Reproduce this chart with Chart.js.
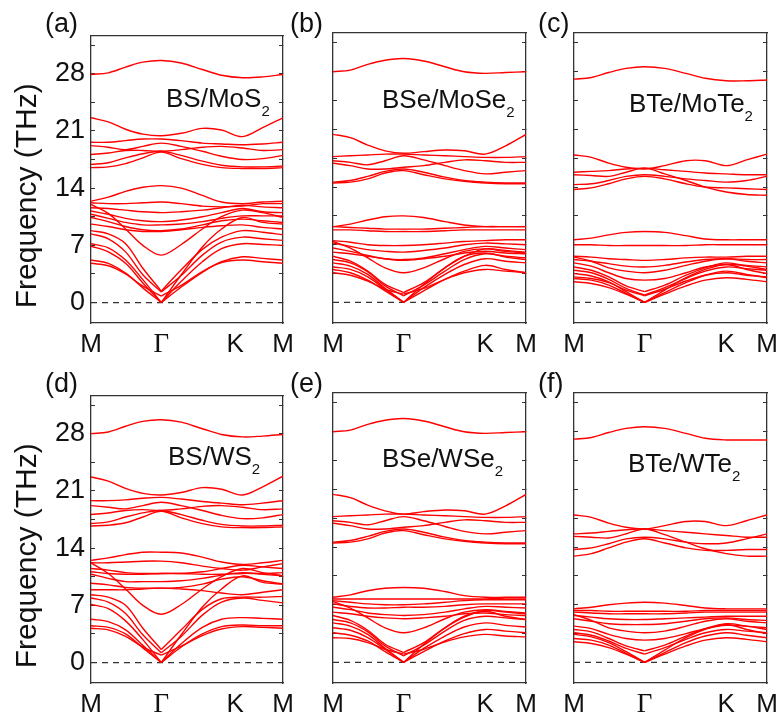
<!DOCTYPE html>
<html>
<head>
<meta charset="utf-8">
<script src="https://cdn.jsdelivr.net/npm/chart.js@4.4.1/dist/chart.umd.min.js"></script>
<style>
body { margin: 0; background: #fff; width: 781px; height: 721px; position: relative; overflow: hidden; font-family: 'Liberation Sans', Arial, sans-serif; color: #111; }
canvas { position: absolute; }
.tag { position: absolute; font-size: 27px; line-height: 27px; }
.inset { position: absolute; font-size: 26px; line-height: 26px; white-space: nowrap; }
.inset span { font-size: 15px; position: relative; top: 9px; }
</style>
</head>
<body>
<script>
// path positions (fraction of M-Γ-K-M length) where bands were read
var kPath = [0, 0.09, 0.18, 0.27, 0.366, 0.47, 0.58, 0.68, 0.789, 0.894, 1];
var kTicks = [0, 0.366, 0.789, 1];
var kNames = ['M', 'Γ', 'K', 'M'];
var freqTicks = [0, 3.5, 7, 10.5, 14, 17.5, 21, 24.5, 28, 31.5];
var freqLabels = [0, 7, 14, 21, 28];
var tags = ['(a)', '(b)', '(c)', '(d)', '(e)', '(f)'];
var materials = ['BS/MoS', 'BSe/MoSe', 'BTe/MoTe', 'BS/WS', 'BSe/WSe', 'BTe/WTe'];

// (a) BS/MoS2
var bandsA = [
    [27.9, 28.1, 28.8, 29.4, 29.6, 29.3, 28.5, 27.8, 27.5, 27.6, 27.9],
    [22.6, 22.1, 21.2, 20.6, 20.4, 20.7, 21.3, 21.1, 20.3, 21.4, 22.6],
    [19.6, 19.6, 19.8, 20.0, 20.0, 19.8, 19.5, 19.4, 19.3, 19.4, 19.6],
    [19.2, 19.0, 18.7, 19.1, 19.5, 19.1, 18.5, 17.9, 17.5, 17.6, 18.0],
    [18.1, 18.3, 18.6, 18.6, 18.5, 18.7, 19.0, 19.1, 18.9, 18.6, 18.7],
    [16.9, 17.1, 17.7, 18.2, 18.5, 18.0, 17.3, 16.8, 16.6, 16.6, 16.7],
    [16.5, 16.6, 17.0, 17.7, 18.4, 17.6, 16.9, 16.5, 16.4, 16.4, 16.5],
    [12.4, 12.9, 13.6, 14.1, 14.3, 14.0, 13.1, 12.3, 12.1, 12.3, 12.4],
    [12.2, 12.1, 12.1, 12.2, 12.3, 12.1, 11.8, 11.7, 11.8, 12.1, 12.1],
    [11.6, 11.5, 11.3, 11.1, 11.0, 11.1, 11.3, 11.6, 11.9, 11.7, 11.6],
    [11.2, 10.8, 10.3, 10.0, 9.9, 10.1, 10.5, 11.0, 11.5, 11.1, 11.0],
    [10.8, 10.3, 9.8, 9.5, 9.5, 9.6, 9.9, 10.3, 10.6, 10.6, 10.6],
    [10.4, 9.9, 9.3, 8.9, 8.8, 9.0, 9.5, 10.0, 10.2, 10.0, 9.8],
    [9.6, 9.3, 8.9, 8.7, 8.7, 8.9, 9.2, 9.4, 9.5, 9.2, 9.0],
    [12.0, 10.9, 9.0, 7.0, 5.8, 7.1, 9.0, 10.5, 11.3, 11.0, 10.4],
    [8.8, 8.4, 7.2, 4.2, 1.4, 4.0, 6.5, 8.0, 8.8, 8.6, 8.3],
    [8.4, 7.8, 6.2, 3.4, 1.3, 3.3, 5.8, 7.4, 8.0, 7.8, 7.6],
    [7.2, 6.7, 5.2, 2.8, 0, 3.4, 6.8, 9.0, 10.4, 9.8, 9.6],
    [6.9, 6.2, 4.8, 2.4, 0, 2.6, 5.0, 6.6, 7.2, 7.1, 7.0],
    [5.2, 4.8, 3.6, 1.8, 0, 1.9, 3.7, 5.0, 5.6, 5.4, 5.2],
    [4.8, 4.5, 3.5, 2.0, 0.8, 2.1, 3.8, 4.9, 5.2, 5.0, 4.8]
];

// (b) BSe/MoSe2
var bandsB = [
    [28.0, 28.2, 28.9, 29.4, 29.6, 29.3, 28.6, 28.0, 27.8, 27.9, 28.0],
    [20.4, 20.0, 19.1, 18.4, 18.1, 18.3, 18.5, 18.4, 18.0, 19.0, 20.4],
    [17.7, 17.8, 17.9, 18.0, 18.0, 17.9, 17.8, 17.7, 17.6, 17.6, 17.7],
    [17.2, 17.0, 16.7, 17.2, 17.8, 17.3, 16.6, 16.0, 15.6, 15.8, 16.0],
    [16.9, 16.6, 16.2, 16.2, 16.4, 16.6, 17.0, 17.3, 17.2, 17.0, 17.0],
    [14.6, 14.8, 15.3, 15.9, 16.2, 15.8, 15.2, 14.8, 14.6, 14.5, 14.5],
    [14.5, 14.6, 15.0, 15.7, 16.0, 15.5, 15.0, 14.7, 14.5, 14.4, 14.4],
    [9.2, 9.5, 10.0, 10.4, 10.5, 10.3, 9.8, 9.4, 9.2, 9.2, 9.2],
    [9.2, 9.1, 9.0, 8.9, 8.9, 8.9, 9.0, 9.1, 9.2, 9.2, 9.2],
    [8.8, 8.8, 8.7, 8.6, 8.6, 8.6, 8.7, 8.8, 8.8, 8.8, 8.8],
    [7.5, 7.3, 7.0, 6.9, 6.9, 7.0, 7.2, 7.4, 7.5, 7.6, 7.6],
    [7.2, 6.8, 6.4, 6.2, 6.1, 6.3, 6.6, 7.0, 7.2, 7.1, 7.0],
    [6.6, 6.2, 5.7, 5.3, 5.2, 5.4, 5.9, 6.4, 6.8, 6.6, 6.4],
    [7.4, 6.6, 5.4, 4.2, 3.6, 4.2, 5.3, 6.2, 6.5, 6.2, 6.0],
    [6.1, 5.9, 5.6, 5.3, 5.1, 5.3, 5.6, 6.0, 6.2, 6.0, 5.9],
    [5.6, 5.0, 3.8, 2.2, 1.2, 2.4, 4.2, 5.6, 6.5, 6.3, 6.1],
    [5.2, 4.8, 3.7, 2.0, 0.8, 2.1, 3.8, 5.2, 5.9, 5.6, 5.4],
    [4.8, 4.4, 3.4, 1.7, 0, 2.2, 4.2, 5.6, 6.0, 5.5, 5.2],
    [4.3, 4.0, 3.1, 1.6, 0, 1.8, 3.4, 4.6, 5.3, 5.0, 4.8],
    [4.0, 3.6, 2.7, 1.4, 0, 1.4, 2.8, 3.8, 4.5, 4.0, 3.6],
    [3.6, 3.3, 2.6, 1.6, 1.0, 1.7, 2.8, 3.6, 4.0, 3.8, 3.6]
];

// (c) BTe/MoTe2
var bandsC = [
    [27.1, 27.3, 27.9, 28.4, 28.6, 28.4, 27.8, 27.2, 26.9, 26.9, 27.0],
    [17.9, 17.6, 16.9, 16.4, 16.2, 16.6, 17.2, 17.2, 16.6, 17.3, 18.0],
    [15.8, 15.9, 16.0, 16.2, 16.3, 16.1, 15.9, 15.7, 15.6, 15.5, 15.5],
    [15.5, 15.4, 15.3, 15.8, 16.3, 15.6, 14.8, 14.0, 13.4, 13.1, 13.0],
    [14.3, 14.4, 14.8, 15.3, 15.5, 15.3, 15.0, 14.8, 14.6, 14.8, 15.3],
    [13.7, 13.9, 14.4, 15.0, 15.3, 15.0, 14.4, 14.0, 13.9, 13.8, 13.7],
    [7.6, 7.8, 8.2, 8.5, 8.6, 8.5, 8.1, 7.7, 7.6, 7.6, 7.6],
    [7.0, 7.0, 6.9, 6.9, 6.9, 6.9, 6.9, 7.0, 7.0, 7.0, 7.0],
    [5.6, 5.5, 5.3, 5.2, 5.1, 5.2, 5.4, 5.5, 5.5, 5.6, 5.6],
    [5.2, 5.0, 4.7, 4.4, 4.3, 4.5, 4.9, 5.2, 5.3, 5.2, 5.2],
    [5.5, 5.0, 4.2, 3.8, 3.6, 3.9, 4.5, 5.0, 5.3, 5.0, 4.8],
    [4.8, 4.4, 3.6, 2.9, 2.7, 2.9, 3.6, 4.3, 4.6, 4.5, 4.3],
    [4.3, 3.9, 3.1, 2.0, 1.3, 2.1, 3.3, 4.2, 4.8, 4.4, 4.0],
    [3.9, 3.6, 2.8, 1.7, 0.9, 1.8, 2.9, 3.8, 4.3, 4.1, 3.9],
    [3.5, 3.2, 2.5, 1.3, 0, 1.5, 3.0, 4.0, 4.6, 4.0, 3.5],
    [2.9, 2.7, 2.1, 1.1, 0, 1.2, 2.4, 3.3, 3.8, 3.4, 3.0],
    [2.5, 2.3, 1.8, 1.0, 0, 1.0, 2.0, 2.7, 3.0, 2.8, 2.5],
    [3.1, 2.9, 2.4, 1.5, 0.8, 1.6, 2.6, 3.3, 3.6, 3.3, 3.1]
];

// (d) BS/WS2
var bandsD = [
    [28.0, 28.2, 28.9, 29.5, 29.7, 29.4, 28.6, 27.9, 27.6, 27.7, 27.9],
    [22.7, 22.2, 21.3, 20.7, 20.5, 20.8, 21.4, 21.2, 20.5, 21.5, 22.8],
    [19.8, 19.8, 19.9, 20.1, 20.2, 20.0, 19.7, 19.5, 19.3, 19.5, 19.8],
    [19.2, 19.0, 18.8, 19.2, 19.6, 19.2, 18.6, 18.0, 17.6, 17.7, 18.1],
    [18.1, 18.3, 18.6, 18.7, 18.6, 18.8, 19.1, 19.2, 19.0, 18.7, 18.8],
    [17.0, 17.2, 17.8, 18.3, 18.6, 18.1, 17.4, 16.9, 16.7, 16.7, 16.8],
    [16.7, 16.8, 17.1, 17.8, 18.5, 17.7, 17.0, 16.6, 16.5, 16.5, 16.6],
    [12.5, 12.8, 13.2, 13.5, 13.5, 13.4, 12.9, 12.3, 12.0, 12.2, 12.5],
    [12.2, 12.2, 12.3, 12.4, 12.4, 12.2, 11.8, 11.5, 11.3, 11.7, 12.1],
    [11.5, 11.3, 11.0, 10.9, 10.9, 10.9, 11.1, 11.5, 11.9, 11.7, 11.5],
    [11.1, 10.9, 10.8, 10.8, 10.9, 10.9, 10.8, 10.8, 10.9, 10.9, 11.0],
    [10.8, 10.3, 9.9, 9.9, 9.9, 10.0, 10.3, 10.7, 11.0, 10.8, 10.6],
    [9.7, 9.5, 9.2, 9.1, 9.1, 9.2, 9.6, 10.2, 10.5, 10.0, 9.6],
    [8.9, 8.9, 8.9, 9.0, 9.1, 9.0, 8.8, 8.5, 8.3, 8.6, 8.9],
    [12.2, 10.9, 9.0, 7.0, 5.9, 7.1, 9.0, 10.5, 11.5, 11.0, 10.6],
    [8.3, 8.0, 7.0, 4.2, 1.6, 4.0, 6.5, 7.8, 8.0, 8.0, 8.1],
    [7.9, 7.4, 6.0, 3.4, 1.2, 3.2, 5.8, 7.4, 7.9, 7.6, 7.3],
    [7.1, 6.6, 5.1, 2.8, 0, 3.4, 6.8, 9.0, 10.6, 9.8, 9.6],
    [5.3, 5.0, 4.0, 2.1, 0, 2.3, 4.3, 5.3, 5.5, 5.4, 5.3],
    [4.5, 4.3, 3.5, 1.8, 0, 1.9, 3.5, 4.4, 4.6, 4.5, 4.5],
    [4.2, 4.0, 3.2, 1.9, 0.9, 2.0, 3.3, 4.1, 4.4, 4.3, 4.2]
];

// (e) BSe/WSe2
var bandsE = [
    [28.0, 28.2, 28.9, 29.4, 29.6, 29.3, 28.6, 28.0, 27.8, 27.9, 28.0],
    [20.4, 20.0, 19.1, 18.4, 18.0, 18.3, 18.5, 18.4, 18.0, 19.0, 20.4],
    [17.7, 17.8, 17.9, 18.0, 18.0, 17.9, 17.8, 17.7, 17.6, 17.6, 17.7],
    [17.2, 17.0, 16.7, 17.2, 17.7, 17.2, 16.5, 15.9, 15.6, 15.8, 16.0],
    [16.9, 16.6, 16.2, 16.2, 16.4, 16.6, 17.0, 17.3, 17.2, 17.0, 17.0],
    [14.6, 14.8, 15.3, 15.9, 16.2, 15.8, 15.2, 14.8, 14.6, 14.5, 14.5],
    [14.5, 14.6, 15.0, 15.7, 16.0, 15.5, 15.0, 14.7, 14.5, 14.4, 14.4],
    [7.9, 8.2, 8.7, 9.0, 9.1, 9.0, 8.6, 8.1, 7.9, 7.9, 7.9],
    [7.7, 7.7, 7.7, 7.7, 7.7, 7.7, 7.7, 7.7, 7.7, 7.8, 7.8],
    [7.5, 7.3, 7.1, 7.0, 7.0, 7.1, 7.3, 7.5, 7.6, 7.6, 7.6],
    [7.1, 6.8, 6.6, 6.6, 6.7, 6.7, 6.8, 7.0, 7.1, 7.1, 7.1],
    [6.7, 6.4, 6.0, 5.8, 5.7, 5.8, 6.1, 6.5, 6.8, 6.7, 6.6],
    [7.4, 6.6, 5.4, 4.2, 3.6, 4.2, 5.3, 6.1, 6.4, 6.2, 6.0],
    [6.1, 5.9, 5.6, 5.4, 5.3, 5.4, 5.6, 5.9, 6.0, 5.8, 5.7],
    [5.7, 5.1, 3.9, 2.2, 1.2, 2.4, 4.2, 5.5, 6.3, 6.1, 5.9],
    [5.2, 4.8, 3.7, 2.0, 0.8, 2.1, 3.8, 5.1, 5.6, 5.4, 5.2],
    [4.8, 4.4, 3.4, 1.7, 0, 2.2, 4.2, 5.6, 6.2, 5.6, 5.2],
    [4.2, 3.9, 3.0, 1.6, 0, 1.7, 3.2, 4.3, 4.8, 4.5, 4.3],
    [3.6, 3.3, 2.6, 1.3, 0, 1.3, 2.6, 3.5, 4.0, 3.8, 3.6],
    [3.0, 2.9, 2.4, 1.6, 1.0, 1.6, 2.5, 3.1, 3.4, 3.2, 3.1]
];

// (f) BTe/WTe2
var bandsF = [
    [27.1, 27.3, 27.9, 28.4, 28.6, 28.4, 27.8, 27.2, 27.0, 27.0, 27.0],
    [17.9, 17.6, 16.9, 16.4, 16.2, 16.6, 17.1, 17.1, 16.6, 17.2, 17.9],
    [15.6, 15.7, 15.9, 16.1, 16.2, 16.0, 15.8, 15.6, 15.4, 15.2, 15.2],
    [15.3, 15.2, 15.1, 15.6, 16.2, 15.5, 14.6, 13.8, 13.2, 12.9, 12.9],
    [13.7, 13.9, 14.4, 15.0, 15.2, 15.0, 14.6, 14.4, 14.5, 15.0, 15.6],
    [12.9, 13.2, 13.9, 14.6, 15.0, 14.5, 13.9, 13.6, 13.6, 13.7, 13.7],
    [6.5, 6.7, 7.0, 7.2, 7.3, 7.2, 6.9, 6.6, 6.5, 6.5, 6.5],
    [6.3, 6.3, 6.2, 6.2, 6.2, 6.2, 6.2, 6.3, 6.3, 6.3, 6.3],
    [6.1, 6.0, 5.9, 5.9, 5.9, 5.9, 6.0, 6.1, 6.1, 6.1, 6.1],
    [5.7, 5.5, 5.3, 5.2, 5.2, 5.3, 5.4, 5.5, 5.6, 5.6, 5.6],
    [5.3, 5.0, 4.7, 4.6, 4.6, 4.7, 5.0, 5.3, 5.4, 5.2, 5.1],
    [5.8, 5.1, 4.2, 3.8, 3.6, 3.8, 4.4, 5.0, 5.3, 5.0, 4.8],
    [4.4, 4.1, 3.4, 2.9, 2.7, 2.9, 3.5, 4.1, 4.5, 4.4, 4.2],
    [4.0, 3.7, 2.9, 2.0, 1.4, 2.1, 3.2, 4.1, 4.7, 4.4, 4.0],
    [3.6, 3.3, 2.6, 1.7, 1.0, 1.8, 2.8, 3.6, 4.0, 3.8, 3.6],
    [3.4, 3.1, 2.4, 1.3, 0, 1.5, 3.0, 4.0, 4.6, 4.0, 3.5],
    [2.9, 2.7, 2.1, 1.1, 0, 1.2, 2.4, 3.2, 3.6, 3.3, 3.0],
    [2.5, 2.3, 1.8, 1.0, 0, 1.0, 2.0, 2.7, 3.0, 2.8, 2.5]
];

var allBands = [bandsA, bandsB, bandsC, bandsD, bandsE, bandsF];

// plot frames in page pixels
var frames = [
    {x: 91, y: 33, w: 192, h: 290},
    {x: 333, y: 33, w: 193, h: 290},
    {x: 574, y: 33, w: 193, h: 290},
    {x: 91, y: 393, w: 192, h: 290},
    {x: 333, y: 393, w: 193, h: 290},
    {x: 574, y: 393, w: 193, h: 290}
];
var tagPos = [[45, 10], [290, 10], [538, 10], [45, 370], [290, 370], [538, 370]];
var insetPos = [[166, 85], [382, 86], [629, 90], [168, 443], [382, 445], [628, 450]];
var GAMMA = 4; // index of Γ in kPath

Chart.defaults.font.family = "'Liberation Sans', Arial, sans-serif";
Chart.defaults.color = '#111';

function setFreqTicks(s) {
    s.ticks = freqTicks.map(function (v) { return {value: v}; });
}

function bandLine(b, from, to) {
    var pts = [];
    for (var j = from; j <= to; j++) pts.push({x: kPath[j], y: b[j]});
    return {data: pts, borderColor: '#f00', borderWidth: 1.4, pointRadius: 0, tension: 0.35};
}

function makePanel(i) {
    var f = frames[i];
    var col = i % 3;
    var L = col === 0 ? 91 : 30, T = 24, R = 30, B = 45;
    var cv = document.createElement('canvas');
    cv.width = L + f.w + R;
    cv.height = T + f.h + B;
    cv.style.left = (f.x - L) + 'px';
    cv.style.top = (f.y - T) + 'px';
    document.body.appendChild(cv);

    var sets = [];
    allBands[i].forEach(function (b) {
        // low branches meet Γ in a cusp, so they are drawn as two halves
        if (b[GAMMA] < 2) {
            sets.push(bandLine(b, 0, GAMMA));
            sets.push(bandLine(b, GAMMA, kPath.length - 1));
        } else {
            sets.push(bandLine(b, 0, kPath.length - 1));
        }
    });
    sets.push({
        data: [{x: 0, y: 0}, {x: 1, y: 0}],
        borderColor: '#333',
        borderWidth: 1.3,
        borderDash: [6, 5],
        pointRadius: 0
    });

    var frameBorder = {display: true, color: '#333', width: 1.3};
    var inTicks = {drawOnChartArea: false, tickLength: -4, tickColor: '#333', tickWidth: 1};

    new Chart(cv.getContext('2d'), {
        type: 'line',
        data: {datasets: sets},
        options: {
            responsive: false,
            animation: false,
            events: [],
            layout: {padding: {left: 0, top: T, right: R, bottom: 0}},
            plugins: {legend: {display: false}, tooltip: {enabled: false}},
            scales: {
                x: {
                    type: 'linear', position: 'bottom', min: 0, max: 1,
                    afterBuildTicks: function (s) { s.ticks = kTicks.map(function (v) { return {value: v}; }); },
                    afterFit: function (s) { s.height = B; },
                    grid: {drawOnChartArea: false, drawTicks: false},
                    border: frameBorder,
                    ticks: {
                        autoSkip: false, maxRotation: 0, padding: 6,
                        font: function (c) {
                            return c.index === 1 ? {family: "'Liberation Serif', serif", size: 27} : {size: 26};
                        },
                        callback: function (v, j) {
                            return (j === 2 && col === 0) ? 'K  ' : kNames[j];
                        }
                    }
                },
                x2: {
                    axis: 'x', type: 'linear', position: 'top', min: 0, max: 1,
                    afterFit: function (s) { s.height = 0; },
                    grid: {drawOnChartArea: false, drawTicks: false},
                    border: frameBorder,
                    ticks: {display: false}
                },
                y: {
                    type: 'linear', position: 'left', min: -2.5, max: 32.7,
                    afterBuildTicks: setFreqTicks,
                    afterFit: function (s) { s.width = L; },
                    grid: inTicks,
                    border: frameBorder,
                    ticks: {
                        display: col === 0, autoSkip: false, padding: 10, font: {size: 27},
                        callback: function (v) { return freqLabels.indexOf(v) >= 0 ? String(v) : ''; }
                    },
                    title: {
                        display: col === 0, text: 'Frequency (THz)    ',
                        font: {size: 30}, padding: {top: 10, bottom: 0}
                    }
                },
                y2: {
                    axis: 'y', type: 'linear', position: 'right', min: -2.5, max: 32.7,
                    afterBuildTicks: setFreqTicks,
                    afterFit: function (s) { s.width = 0; },
                    grid: inTicks,
                    border: frameBorder,
                    ticks: {display: false}
                }
            }
        }
    });

    var tag = document.createElement('div');
    tag.className = 'tag';
    tag.textContent = tags[i];
    tag.style.left = tagPos[i][0] + 'px';
    tag.style.top = tagPos[i][1] + 'px';
    document.body.appendChild(tag);

    var ins = document.createElement('div');
    ins.className = 'inset';
    ins.style.left = insetPos[i][0] + 'px';
    ins.style.top = insetPos[i][1] + 'px';
    ins.appendChild(document.createTextNode(materials[i]));
    var sub = document.createElement('span');
    sub.textContent = '2';
    ins.appendChild(sub);
    document.body.appendChild(ins);
}

for (var i = 0; i < 6; i++) makePanel(i);
</script>
</body>
</html>
